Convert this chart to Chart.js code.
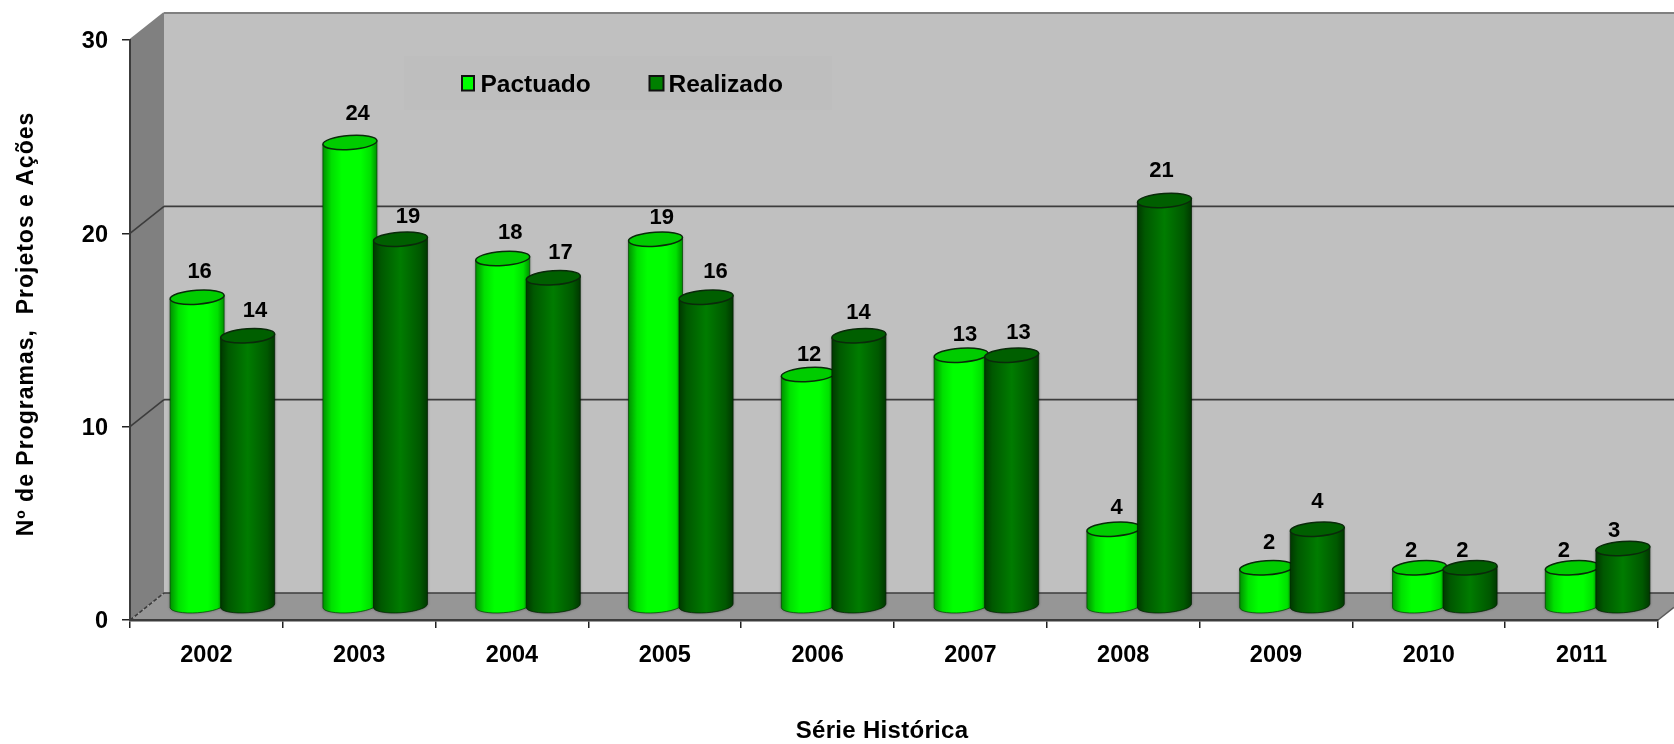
<!DOCTYPE html>
<html>
<head>
<meta charset="utf-8">
<title>Série Histórica</title>
<script src="https://cdn.jsdelivr.net/npm/chart.js@4"></script>
<style>
  html, body { margin: 0; padding: 0; background: #fff; }
  canvas { display: block; filter: blur(0.5px); }
</style>
</head>
<body>
<canvas id="myChart" width="1674" height="744"></canvas>
<script>
var categories = ["2002", "2003", "2004", "2005", "2006", "2007", "2008", "2009", "2010", "2011"];
var pactuado = [16, 24, 18, 19, 12, 13, 4, 2, 2, 2];
var realizado = [14, 19, 17, 16, 14, 13, 21, 4, 2, 3];
var yTickValues = [0, 10, 20, 30];

// the value labels were placed by hand in the original, so each one has its own nudge
var nudgeX = [[2.5, 7.7, 7.5, 6.3, 0.8, 3.9, 2.7, 2.5, -8.4, -8.5], [7.4, 7.4, 7.2, 9.3, -0.5, 6.9, -3.1, 0, -7.7, -8.7]];
var nudgeY = [[-25.6, -29, -25.3, -21, -19.6, -20, -21.6, -25, -17, -17], [-24.4, -22, -25, -25.6, -23, -22, -30, -27, -17, -17.4]];

var FONT = "'Liberation Sans', Arial, sans-serif";
var DEPTH_X = 34, DEPTH_Y = 27;   // back wall offset
var MID_X = 16, MID_Y = 13.5;     // the cylinders stand half way in
var TILT = 4 * Math.PI / 180;
var RY = 7;

var shades = [
  { stops: [[0, "#009000"], [0.16, "#00e000"], [0.35, "#00ff00"], [0.7, "#00ff00"], [0.88, "#00e000"], [1, "#009000"]], top: "#00cc00", line: "rgba(0,70,0,0.7)" },
  { stops: [[0, "#003800"], [0.14, "#005800"], [0.5, "#007c00"], [0.86, "#005800"], [1, "#003800"]], top: "#005f00", line: "rgba(0,30,0,0.7)" }
];

function drawWalls(chart) {
  var ctx = chart.ctx, a = chart.chartArea, y = chart.scales.y;
  var W = chart.width;
  var backL = a.left + DEPTH_X, backB = a.bottom - DEPTH_Y, backT = a.top - DEPTH_Y;

  ctx.save();
  ctx.fillStyle = "#c0c0c0";
  ctx.fillRect(backL, backT, W - backL, backB - backT);
  ctx.fillStyle = "#bebebe";
  ctx.fillRect(404, 56, 428, 54);

  // left wall
  ctx.fillStyle = "#808080";
  ctx.beginPath();
  ctx.moveTo(a.left, a.top);
  ctx.lineTo(backL, backT);
  ctx.lineTo(backL, backB);
  ctx.lineTo(a.left, a.bottom);
  ctx.closePath();
  ctx.fill();

  // floor
  ctx.fillStyle = "#969696";
  ctx.beginPath();
  ctx.moveTo(a.left, a.bottom);
  ctx.lineTo(backL, backB);
  ctx.lineTo(W, backB);
  ctx.lineTo(W, a.bottom - (W - a.right) * DEPTH_Y / DEPTH_X);
  ctx.lineTo(a.right, a.bottom);
  ctx.closePath();
  ctx.fill();

  // grid lines, on the left wall and the back wall
  yTickValues.forEach(function (v) {
    var py = y.getPixelForValue(v);
    ctx.strokeStyle = v === 30 ? "#808080" : "#3c3c3c";
    ctx.lineWidth = v === 30 ? 2 : 1.6;
    ctx.setLineDash(v === 0 ? [4, 2] : []);
    ctx.beginPath();
    ctx.moveTo(a.left, py);
    ctx.lineTo(backL, py - DEPTH_Y);
    ctx.stroke();
    ctx.setLineDash([]);
    ctx.beginPath();
    ctx.moveTo(backL, py - DEPTH_Y);
    ctx.lineTo(W, py - DEPTH_Y);
    ctx.stroke();
  });

  ctx.strokeStyle = "#5a5a5a";
  ctx.lineWidth = 1.5;
  ctx.beginPath();
  ctx.moveTo(a.right, a.bottom);
  ctx.lineTo(W, a.bottom - (W - a.right) * DEPTH_Y / DEPTH_X);
  ctx.stroke();
  ctx.restore();
}

function drawCylinder(ctx, bar, shade) {
  var cx = bar.x + MID_X, rx = bar.width / 2;
  var topY = bar.y - MID_Y, botY = bar.base - MID_Y;
  var dx = rx * Math.cos(TILT), dy = rx * Math.sin(TILT);

  var grad = ctx.createLinearGradient(cx - rx, 0, cx + rx, 0);
  shade.stops.forEach(function (s) {
    grad.addColorStop(s[0], s[1]);
  });

  ctx.save();
  ctx.shadowColor = "rgba(0,0,0,0.45)";
  ctx.shadowBlur = 3;
  ctx.beginPath();
  ctx.moveTo(cx - dx, topY + dy);
  ctx.lineTo(cx - dx, botY + dy);
  ctx.ellipse(cx, botY, rx, RY, -TILT, Math.PI, 0, true);
  ctx.lineTo(cx + dx, topY - dy);
  ctx.closePath();
  ctx.fillStyle = grad;
  ctx.fill();
  ctx.shadowColor = "transparent";
  ctx.strokeStyle = shade.line;
  ctx.lineWidth = 1;
  ctx.stroke();

  ctx.beginPath();
  ctx.ellipse(cx, topY, rx, RY, -TILT, 0, Math.PI * 2);
  ctx.fillStyle = shade.top;
  ctx.fill();
  ctx.strokeStyle = "#0a2a0a";
  ctx.lineWidth = 1.5;
  ctx.stroke();
  ctx.restore();
}

function drawLegend(ctx, chart) {
  var spots = [{ box: 462, text: 480.5 }, { box: 649.5, text: 668.5 }];
  ctx.save();
  ctx.font = "bold 24.5px " + FONT;
  ctx.textBaseline = "alphabetic";
  ctx.textAlign = "left";
  chart.data.datasets.forEach(function (ds, i) {
    ctx.fillStyle = ds.backgroundColor;
    ctx.fillRect(spots[i].box, 76, i ? 14 : 12, 14.5);
    ctx.strokeStyle = "#111";
    ctx.lineWidth = 2;
    ctx.strokeRect(spots[i].box, 76, i ? 14 : 12, 14.5);
    ctx.fillStyle = "#000";
    ctx.fillText(ds.label, spots[i].text, 92);
  });
  ctx.restore();
}

// axis titles sit off centre and are letter spaced, so the scale's own title can't do them
function drawTitles(ctx) {
  ctx.save();
  ctx.fillStyle = "#000";
  ctx.textAlign = "center";
  ctx.textBaseline = "middle";
  ctx.font = "bold 24px " + FONT;
  ctx.letterSpacing = "0.3px";
  ctx.fillText("Série Histórica", 882, 731);
  ctx.translate(27, 324);
  ctx.rotate(-Math.PI / 2);
  ctx.font = "bold 23px " + FONT;
  ctx.letterSpacing = "1px";
  ctx.fillText("Nº de Programas,  Projetos e Ações", 0, 0);
  ctx.restore();
}

var cylinders = {
  id: "cylinders",
  beforeDraw: function (chart) {
    drawWalls(chart);
    drawTitles(chart.ctx);
  },
  // the flat bars are only used for their geometry
  beforeDatasetDraw: function () {
    return false;
  },
  afterDatasetsDraw: function (chart) {
    var ctx = chart.ctx;
    drawLegend(ctx, chart);
    chart.data.datasets.forEach(function (ds, i) {
      chart.getDatasetMeta(i).data.forEach(function (bar) {
        drawCylinder(ctx, bar, shades[i]);
      });
    });
    ctx.save();
    ctx.font = "bold 22px " + FONT;
    ctx.fillStyle = "#000";
    ctx.textAlign = "center";
    ctx.textBaseline = "middle";
    chart.data.datasets.forEach(function (ds, i) {
      chart.getDatasetMeta(i).data.forEach(function (bar, j) {
        ctx.fillText(ds.data[j], bar.x + MID_X + nudgeX[i][j], bar.y - MID_Y + nudgeY[i][j]);
      });
    });
    ctx.restore();
  }
};

new Chart(document.getElementById("myChart"), {
  type: "bar",
  data: {
    labels: categories,
    datasets: [
      { label: "Pactuado", data: pactuado, backgroundColor: "#00ff00", categoryPercentage: 0.662, barPercentage: 1.07 },
      { label: "Realizado", data: realizado, backgroundColor: "#008000", categoryPercentage: 0.662, barPercentage: 1.07 }
    ]
  },
  plugins: [cylinders],
  options: {
    responsive: false,
    animation: false,
    devicePixelRatio: 1,
    layout: { padding: { top: 40, right: 16, left: 0, bottom: 0 } },
    plugins: { legend: { display: false }, tooltip: { enabled: false } },
    scales: {
      x: {
        grid: { drawOnChartArea: false, color: "#222", lineWidth: 1.5, tickLength: 8 },
        border: { color: "#3c3c3c", width: 2.5 },
        ticks: { color: "#000", font: { family: FONT, weight: "bold", size: 23.5 }, padding: 13, maxRotation: 0 },
        afterFit: function (s) { s.height = 124; }
      },
      y: {
        min: 0,
        max: 30,
        grid: { drawOnChartArea: false, color: "#222", lineWidth: 1.5, tickLength: 8 },
        border: { color: "#3c3c3c", width: 2 },
        ticks: { stepSize: 10, color: "#000", font: { family: FONT, weight: "bold", size: 23.5 }, padding: 14, labelOffset: 2 },
        afterFit: function (s) { s.width = 130; }
      }
    }
  }
});
</script>
</body>
</html>
